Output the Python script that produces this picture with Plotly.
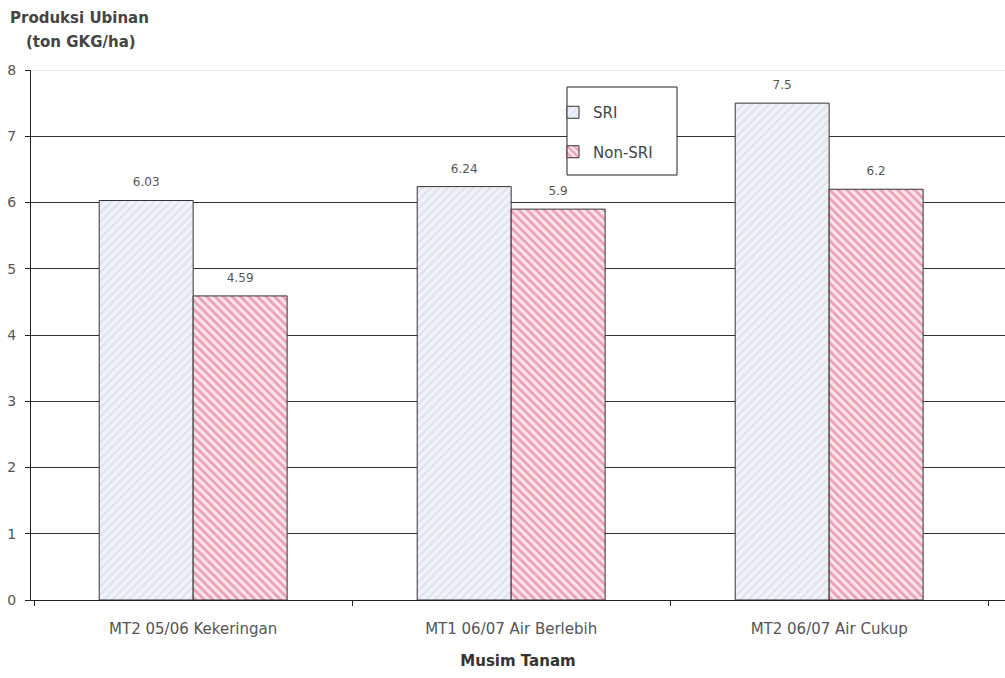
import plotly.graph_objects as go

# Rice yield (ubinan) per planting season, SRI vs conventional
seasons = ["MT2 05/06 Kekeringan", "MT1 06/07 Air Berlebih", "MT2 06/07 Air Cukup"]
sri = [6.03, 6.24, 7.5]
non_sri = [4.59, 5.9, 6.2]
sri_labels = ["6.03", "6.24", "7.5"]
non_sri_labels = ["4.59", "5.9", "6.2"]
y_ticks = [0, 1, 2, 3, 4, 5, 6, 7, 8]

FONT = "DejaVu Sans, Liberation Sans, Arial, sans-serif"
# value label in 12px, followed by a short blank line that lifts it off the bar
LABEL_TEMPLATE = "<span style='font-size:12px'>%{text}</span><br>\u00a0"

fig = go.Figure()
fig.add_trace(go.Bar(
    x=seasons, y=sri, name="SRI", legendgroup="a",
    text=sri_labels, texttemplate=LABEL_TEMPLATE, textposition="outside",
    textfont=dict(size=7, color="#555", family=FONT),
    marker=dict(
        color="#eef0f8",
        line=dict(color="#333", width=1),
        pattern=dict(shape="/", bgcolor="#f0f1f9", fgcolor="#cfd2de",
                     size=6, solidity=0.35),
    ),
    cliponaxis=False,
))
fig.add_trace(go.Bar(
    x=seasons, y=non_sri, name="Non-SRI", legendgroup="b",
    text=non_sri_labels, texttemplate=LABEL_TEMPLATE, textposition="outside",
    textfont=dict(size=7, color="#555", family=FONT),
    marker=dict(
        color="#f6dce4",
        line=dict(color="#333", width=1),
        pattern=dict(shape="\\", bgcolor="#f8e4ea", fgcolor="#e0587f",
                     size=6, solidity=0.45),
    ),
    cliponaxis=False,
))

# lighter line along the top of the plot area
fig.add_shape(type="line", xref="paper", yref="y", x0=0, x1=1, y0=8, y1=8,
              line=dict(color="#d4d4d4", width=1), layer="above")
# framed white box behind the legend entries
fig.add_shape(type="rect", xref="paper", yref="paper",
              x0=(567 - 31) / 974, x1=(677 - 31) / 974,
              y0=(600 - 175) / 530, y1=(600 - 87) / 530,
              fillcolor="white", line=dict(color="#222", width=1), layer="above")

fig.update_layout(
    width=1005, height=678,
    margin=dict(l=31, r=0, t=70, b=78),
    paper_bgcolor="white", plot_bgcolor="white",
    font=dict(family=FONT, color="#444", size=12),
    barmode="group", bargap=0.409, bargroupgap=0,
    showlegend=True,
    legend=dict(
        x=(553 - 31) / 974, y=(600 - 96) / 530, xanchor="left", yanchor="top",
        bgcolor="rgba(0,0,0,0)", borderwidth=0,
        font=dict(size=15, color="#444", family=FONT),
        tracegroupgap=17, itemwidth=30,
    ),
)
fig.add_annotation(text="<b>Produksi Ubinan</b>", xref="paper", yref="paper",
                   x=-23 / 974, y=1 + 52 / 530, xanchor="left",
                   yanchor="middle", showarrow=False,
                   font=dict(size=15, color="#444", family=FONT))
fig.add_annotation(text="<b>(ton GKG/ha)</b>", xref="paper", yref="paper",
                   x=-7 / 974, y=1 + 28 / 530, xanchor="left",
                   yanchor="middle", showarrow=False,
                   font=dict(size=15, color="#444", family=FONT))

fig.update_xaxes(
    range=[-0.51, 2.553],
    showline=True, linecolor="#222", linewidth=1,
    ticks="outside", tickson="boundaries", ticklen=5, tickcolor="#222",
    ticklabelstandoff=15,
    tickfont=dict(size=15, color="#555", family=FONT),
    title=dict(text="<b>Musim Tanam</b>", font=dict(size=15, color="#333", family=FONT),
               standoff=18),
    showgrid=False,
)
fig.update_yaxes(
    range=[0, 8], tickvals=y_ticks,
    showline=True, linecolor="#222", linewidth=1,
    ticks="outside", ticklen=5, tickcolor="#222",
    ticklabelstandoff=6,
    tickfont=dict(size=14, color="#555", family=FONT),
    showgrid=True, gridcolor="#333", gridwidth=1,
    zeroline=False,
)

fig.write_html("out.html")
